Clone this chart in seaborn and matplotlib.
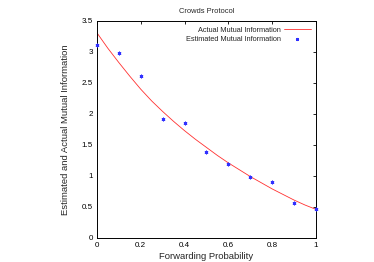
import matplotlib
matplotlib.use("Agg")
import matplotlib.pyplot as plt
import seaborn as sns
from matplotlib.lines import Line2D
from matplotlib.ticker import FuncFormatter

# forwarding probabilities
prob_est = [0.0, 0.1, 0.2, 0.3, 0.4, 0.5, 0.6, 0.7, 0.8, 0.9, 1.0]
mi_est = [3.12, 2.99, 2.61, 1.92, 1.86, 1.39, 1.19, 0.98, 0.90, 0.57, 0.47]

prob_act = [0.0, 0.05, 0.1, 0.15, 0.2, 0.25, 0.3, 0.35, 0.4, 0.45, 0.5,
            0.55, 0.6, 0.65, 0.7, 0.75, 0.8, 0.85, 0.9, 0.95, 1.0]
mi_act = [3.31, 3.06, 2.83, 2.61, 2.40, 2.21, 2.04, 1.88, 1.73, 1.59, 1.46,
          1.33, 1.21, 1.10, 0.99, 0.89, 0.79, 0.70, 0.61, 0.53, 0.46]

x_ticks = [0, 0.2, 0.4, 0.6, 0.8, 1.0]
y_ticks = [0, 0.5, 1, 1.5, 2, 2.5, 3, 3.5]

red = '#ff3030'
blue = '#3030ff'

sns.set_style("white")
plt.rcParams['font.family'] = ['Liberation Sans', 'DejaVu Sans']

fig = plt.figure(figsize=(3.74, 2.62), dpi=100)
ax = fig.add_axes([0.259, 0.092, 0.586, 0.828])

sns.lineplot(x=prob_act, y=mi_act, ax=ax, color=red, linewidth=0.6, legend=False)
sns.scatterplot(x=prob_est, y=mi_est, ax=ax, color=blue, marker=(6, 2, 0),
                s=4, linewidth=0.8, edgecolor=blue, legend=False,
                zorder=3, clip_on=False)

ax.set_xlim(0, 1)
ax.set_ylim(0, 3.5)
ax.set_xticks(x_ticks)
ax.set_yticks(y_ticks)
fmt = FuncFormatter(lambda v, p: '%g' % v)
ax.xaxis.set_major_formatter(fmt)
ax.yaxis.set_major_formatter(fmt)
ax.tick_params(direction='in', length=2.5, width=0.6, labelsize=5.8, pad=3,
               top=True, right=True, colors='black')

for sp in ax.spines.values():
    sp.set_color('black')
    sp.set_linewidth(0.7)

ax.set_title('Crowds Protocol', fontsize=5.4, pad=6)
ax.set_xlabel('Forwarding Probability', fontsize=6.8, labelpad=2)
ax.set_ylabel('Estimated and Actual Mutual Information', fontsize=6.8, labelpad=8)

handles = [Line2D([], [], color=red, linewidth=0.6),
           Line2D([], [], color=blue, linestyle='none', marker=(6, 2, 0),
                  markersize=2.2, markeredgewidth=0.8, markeredgecolor=blue)]
labels = ['Actual Mutual Information', 'Estimated Mutual Information']
ax.legend(handles, labels, loc='upper right', markerfirst=False, frameon=False,
          fontsize=5.3, handlelength=3.6, labelspacing=0.35, borderaxespad=0.45,
          handletextpad=0.4, borderpad=0.3)

fig.savefig('out.png', dpi=100)
